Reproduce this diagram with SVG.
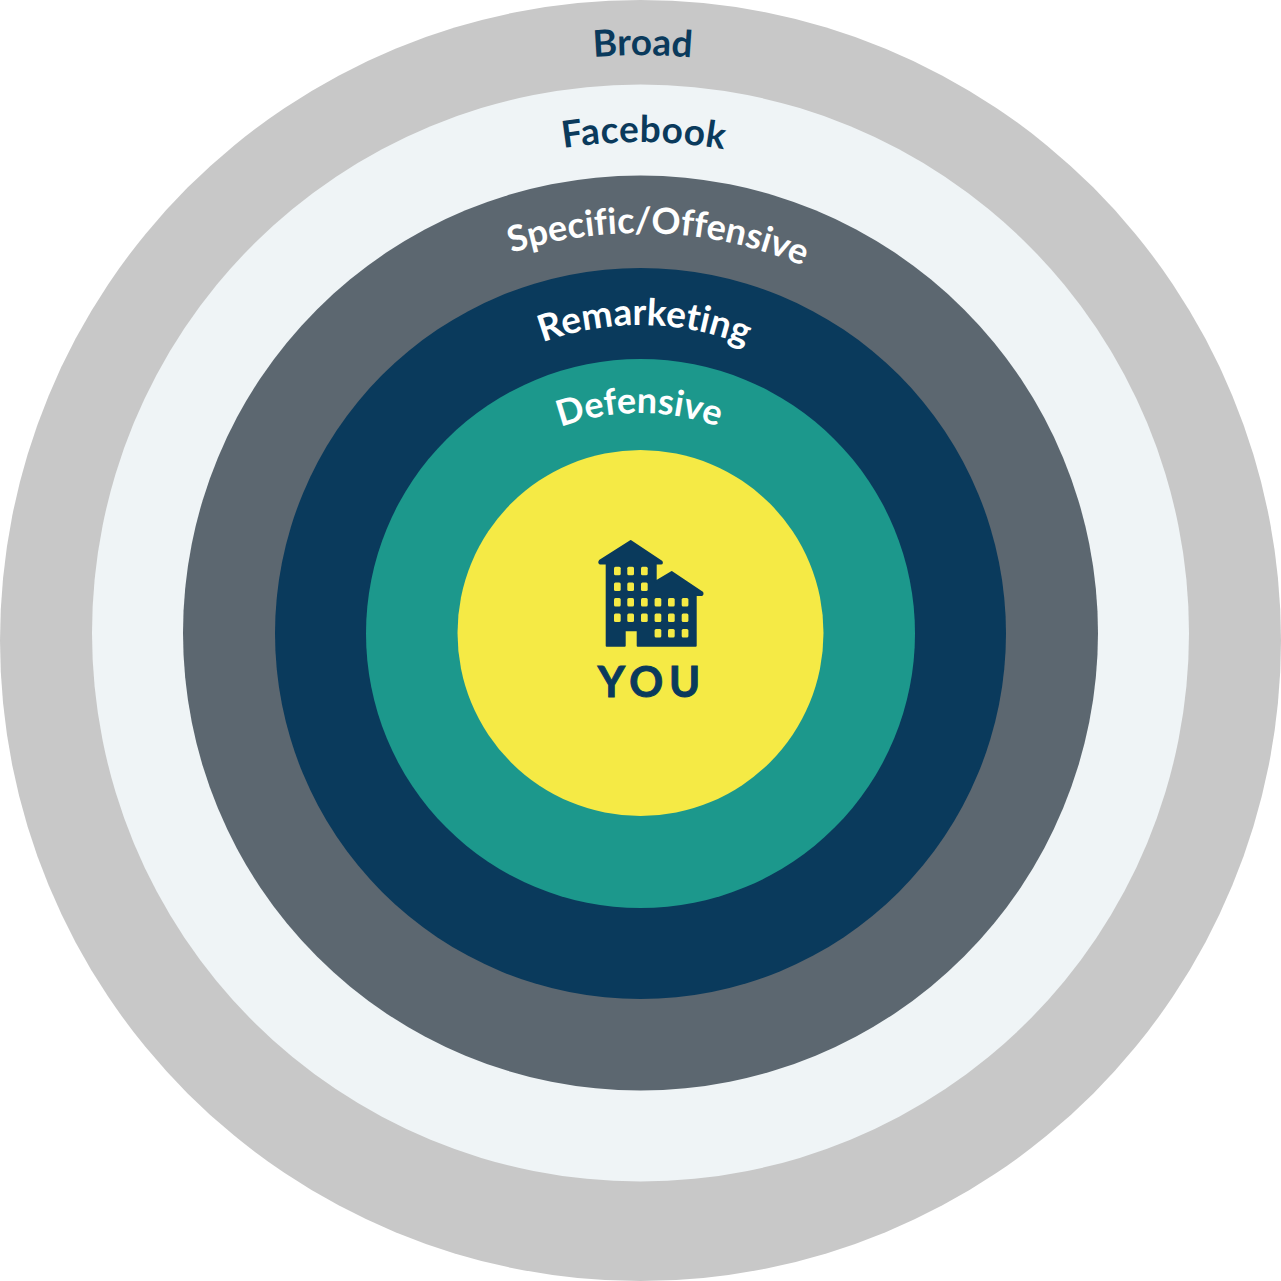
<svg xmlns="http://www.w3.org/2000/svg" width="1281" height="1281" viewBox="0 0 1281 1281">
<style>
.l{font-family:Lato,"Noto Sans","Liberation Sans",sans-serif;font-weight:700;text-anchor:middle;font-variant-ligatures:none}
.d{fill:#0a3a5c}.w{fill:#fff}
.win rect{fill:#f5ea45}
</style>
<defs>
<path id="pBroad" d="M55 640.500A585.500 585.500 0 0 1 1226 640.500"/>
<path id="pFb" d="M143 639A497 497 0 0 1 1137 639"/>
<path id="pSpec" d="M220 653A420 420 0 0 1 1060 653"/>
<path id="pRem" d="M360 605A280 280 0 0 1 920 605"/>
<path id="pDef" d="M412 641A228 228 0 0 1 868 641"/>
</defs>
<rect width="1281" height="1281" fill="#fff"/>
<g id="ring-broad"><circle cx="640.500" cy="640.500" r="640.500" fill="#c8c8c8"/>
<text class="l d" font-size="37"><textPath href="#pBroad" startOffset="50.120%">Broad</textPath></text></g>
<g id="ring-facebook"><circle cx="640.500" cy="633" r="548.500" fill="#eff4f6"/>
<text class="l d" font-size="37" letter-spacing="0.5"><textPath href="#pFb" startOffset="50.250%">Facebook</textPath></text></g>
<g id="ring-specific"><circle cx="640.500" cy="633" r="457.500" fill="#5c6770"/>
<text class="l w" font-size="36"><textPath href="#pSpec" startOffset="51.400%">Specific/Offensive</textPath></text></g>
<g id="ring-remarketing"><circle cx="640.500" cy="633.500" r="365.500" fill="#0a3a5c"/>
<text class="l w" font-size="37"><textPath href="#pRem" startOffset="50.500%">Remarketing</textPath></text></g>
<g id="ring-defensive"><circle cx="640.500" cy="633.500" r="274.500" fill="#1c988c"/>
<text class="l w" font-size="36"><textPath href="#pDef" startOffset="49.900%">Defensive</textPath></text></g>
<g id="you"><circle cx="640.500" cy="633" r="183" fill="#f5ea45"/>
<path class="d" stroke="#0a3a5c" stroke-width="2" stroke-linejoin="round" d="M630.700 541L661.500 561.500Q662.500 563.500 661 563.500L655.700 563.500L655.700 581.500L671.700 572L702.300 592.500Q703 594.500 701.500 595L695.700 595L695.700 645.700L637.700 645.700L637.700 630.300L624.700 630.300L624.700 645.700L606.700 645.700L606.700 563.500L600 563.500Q598.500 562.500 600 560.500Z"/>
<g class="win">
<rect x="614" y="566.800" width="6.700" height="8.500" rx="1.500"/><rect x="627.300" y="566.800" width="6.700" height="8.500" rx="1.500"/><rect x="641" y="566.800" width="6.700" height="8.500" rx="1.500"/>
<rect x="614" y="582.500" width="6.700" height="8.500" rx="1.500"/><rect x="627.300" y="582.500" width="6.700" height="8.500" rx="1.500"/><rect x="641" y="582.500" width="6.700" height="8.500" rx="1.500"/>
<rect x="614" y="598" width="6.700" height="8.500" rx="1.500"/><rect x="627.300" y="598" width="6.700" height="8.500" rx="1.500"/><rect x="641" y="598" width="6.700" height="8.500" rx="1.500"/><rect x="654.600" y="598" width="6.700" height="8.500" rx="1.500"/><rect x="668" y="598" width="6.700" height="8.500" rx="1.500"/><rect x="681.700" y="598" width="6.700" height="8.500" rx="1.500"/>
<rect x="614" y="613.500" width="6.700" height="8.500" rx="1.500"/><rect x="627.300" y="613.500" width="6.700" height="8.500" rx="1.500"/><rect x="641" y="613.500" width="6.700" height="8.500" rx="1.500"/><rect x="654.600" y="613.500" width="6.700" height="8.500" rx="1.500"/><rect x="668" y="613.500" width="6.700" height="8.500" rx="1.500"/><rect x="681.700" y="613.500" width="6.700" height="8.500" rx="1.500"/>
<rect x="654.600" y="629" width="6.700" height="8.500" rx="1.500"/><rect x="668" y="629" width="6.700" height="8.500" rx="1.500"/><rect x="681.700" y="629" width="6.700" height="8.500" rx="1.500"/>
</g>
<text class="l d" x="652" y="697" font-size="42" letter-spacing="6" stroke="#0a3a5c" stroke-width="1">YOU</text></g>
</svg>
